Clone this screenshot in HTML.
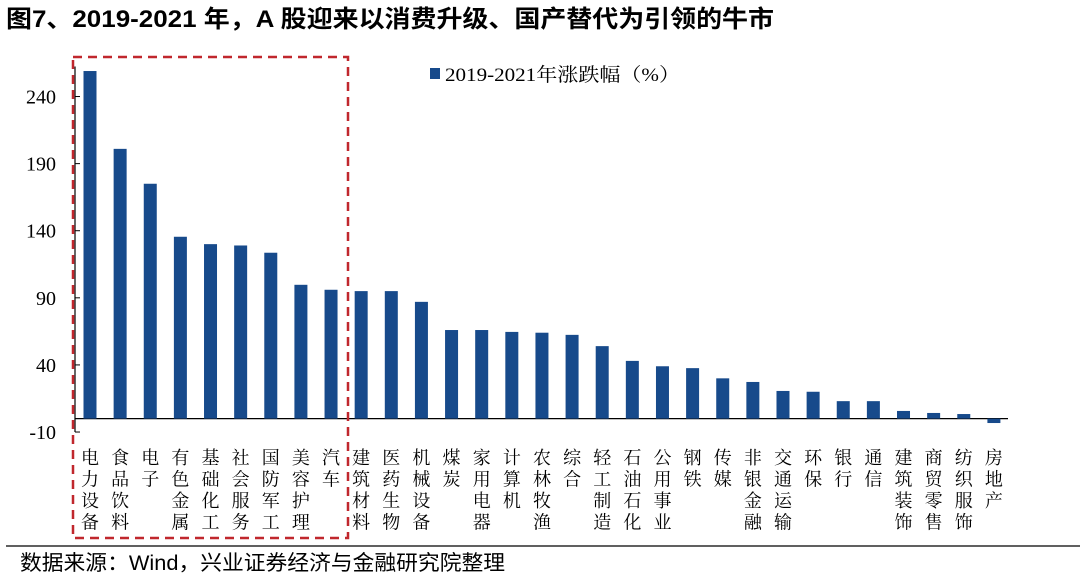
<!DOCTYPE html>
<html><head><meta charset="utf-8"><style>
body{margin:0;background:#fff;width:1080px;height:578px;overflow:hidden;font-family:"Liberation Sans","Noto Sans CJK SC",sans-serif;}
</style></head><body>
<svg width="1080" height="578" xmlns="http://www.w3.org/2000/svg">
<text x="6" y="27" font-size="24" font-weight="bold" textLength="768" lengthAdjust="spacingAndGlyphs" font-family="Liberation Sans, Noto Sans CJK SC, sans-serif">图7、2019-2021 年，A 股迎来以消费升级、国产替代为引领的牛市</text>
<g id="axes"></g>
<g id="bars"></g>
<g id="labels"></g>
<rect x="73" y="57" width="275" height="481" fill="none" stroke="#c0272d" stroke-width="2.5" stroke-dasharray="9,6"/>
<rect x="430" y="68" width="10" height="11" fill="#174a8b"/>
<text x="445" y="81" font-size="19" textLength="235" lengthAdjust="spacingAndGlyphs" font-family="Liberation Serif, Noto Serif CJK SC, serif">2019-2021年涨跌幅（%）</text>
<line x1="6" y1="546" x2="1080" y2="546" stroke="#000" stroke-width="1.2"/>
<text x="20" y="570" font-size="21" textLength="485" lengthAdjust="spacingAndGlyphs">数据来源：Wind，兴业证券经济与金融研究院整理</text>
</svg>
<script>
const categories=["电力设备","食品饮料","电子","有色金属","基础化工","社会服务","国防军工","美容护理","汽车","建筑材料","医药生物","机械设备","煤炭","家用电器","计算机","农林牧渔","综合","轻工制造","石油石化","公用事业","钢铁","传媒","非银金融","交通运输","环保","银行","通信","建筑装饰","商贸零售","纺织服饰","房地产"];
const values=[259,201,175,135.5,130,129,123.6,99.7,96,95,95,87,66,66,64.6,64,62.4,54,43,39,37.6,30,27.3,20.6,20,13,13,5.7,4.2,3.4,-3.3];
const ticks=[-10,40,90,140,190,240];
const NS="http://www.w3.org/2000/svg";
const y0=418.6, k=1.342;
function y(v){return y0-v*k;}
function x(i){return 90+i*30.13;}
const axes=document.getElementById('axes'),bars=document.getElementById('bars'),labels=document.getElementById('labels');
function mk(t,a,p){const e=document.createElementNS(NS,t);for(const q in a)e.setAttribute(q,a[q]);p.appendChild(e);return e;}
const ax=mk('line',{x1:75,y1:y(ticks[ticks.length-1])-30,x2:75,y2:y(-10),stroke:'#000','stroke-width':1.2},axes);


const bl=mk('line',{x1:75,y1:y(0),x2:1008,y2:y(0),stroke:'#000','stroke-width':1.2},axes);


ticks.forEach(t=>{
  const tl=mk('line',{x1:75,y1:y(t),x2:80,y2:y(t),stroke:'#000','stroke-width':1},axes);
  
  
  const tx=mk('text',{x:56,y:y(t)+7,'font-size':20,'text-anchor':'end','font-family':'Liberation Serif, serif'},axes);
  tx.textContent=t;
  
  
});
values.forEach((v,i)=>{
  const r=mk('rect',{x:x(i)-6.5,y:Math.min(y(v),y0),width:13,height:Math.abs(y(v)-y0),fill:'#174a8b'},bars);
  
  
  const g=mk('text',{'font-size':18,'text-anchor':'middle','font-family':'Noto Serif CJK SC, serif'},labels);
  
  
  [...categories[i]].forEach((c,j)=>{const s=mk('tspan',{x:x(i),y:464+j*21.5},g);s.textContent=c;});
});
</script>
</body></html>
